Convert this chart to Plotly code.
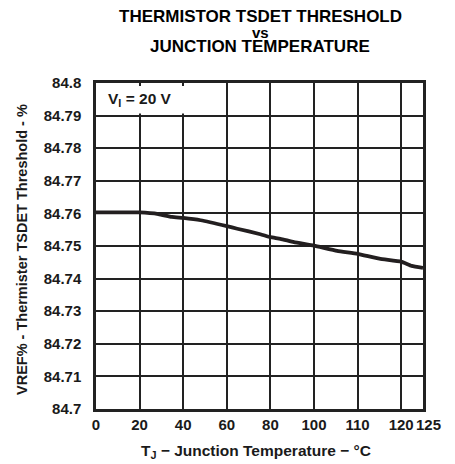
import numpy as np
import plotly.graph_objects as go

# Junction temperature (°C) and measured TSDET threshold (% of VREF)
temp_c = [0, 20, 28.6, 34.8, 40, 48, 60, 64.8, 75.4, 80, 84.6, 90.8, 100,
          105.3, 110, 115, 120, 122.4, 125]
threshold_pct = [84.7603, 84.7603, 84.7598, 84.7589, 84.7586, 84.7579, 84.7561,
                 84.7553, 84.7536, 84.7527, 84.7522, 84.7512, 84.7501,
                 84.7485, 84.7476, 84.7461, 84.7452, 84.7439, 84.7433]

# The temperature axis is drawn with evenly spaced labelled divisions
x_tick_temps = [0, 20, 40, 60, 80, 100, 110, 120, 125]
x_tick_pos = [0, 1, 2, 3, 4, 5, 6, 7, 7.5]
x_tick_text = ["0", "20", "40", "60", "80", "100", "110", "120", "125"]

y_ticks = [84.70, 84.71, 84.72, 84.73, 84.74, 84.75, 84.76, 84.77, 84.78, 84.79, 84.80]
y_tick_text = ["84.7", "84.71", "84.72", "84.73", "84.74", "84.75", "84.76",
               "84.77", "84.78", "84.79", "84.8"]

x_pos = np.interp(temp_c, x_tick_temps, x_tick_pos)

FONT = "Liberation Sans, Arial, sans-serif"
INK = "#1a1a1a"

# plot-area geometry in pixels (used to place the free text)
W, H = 455, 464
L, R, T, B = 96, 32, 83, 55
PW, PH = W - L - R, H - T - B


def px_x(x):
    return (x - L) / PW


def px_y(y):
    return (H - B - y) / PH


fig = go.Figure()
fig.add_trace(go.Scatter(
    x=x_pos, y=threshold_pct, mode="lines",
    line=dict(color="#231f20", width=3.8, shape="spline", smoothing=0.4),
    hoverinfo="skip", showlegend=False,
))

fig.update_layout(
    width=W, height=H,
    margin=dict(l=L, r=R, t=T, b=B),
    paper_bgcolor="white", plot_bgcolor="white",
    font=dict(family=FONT, color=INK),
    showlegend=False,
)

tick_font = dict(family=FONT, size=15, color=INK, weight="bold")
# the final label sits just right of the frame, so it is placed on its own below
x_axis_text = x_tick_text[:-1] + [""]
fig.update_xaxes(
    range=[0, 7.5], tickmode="array", tickvals=x_tick_pos, ticktext=x_axis_text,
    tickangle=0, showgrid=True, gridcolor="#222", gridwidth=1.5, zeroline=False,
    showline=True, linecolor="#222", linewidth=2.5, mirror=True,
    ticks="", tickfont=tick_font, ticklabelstandoff=0,
)
fig.update_yaxes(
    range=[84.70, 84.80], tickmode="array", tickvals=y_ticks, ticktext=y_tick_text,
    showgrid=True, gridcolor="#222", gridwidth=1.5, zeroline=False,
    showline=True, linecolor="#222", linewidth=2.5, mirror=True,
    ticks="", tickfont=tick_font, ticklabelstandoff=9,
)
fig.add_annotation(
    x=x_tick_pos[-1], y=px_y(424.5), xref="x", yref="paper",
    xanchor="center", yanchor="middle", xshift=5, showarrow=False,
    text=f"<b>{x_tick_text[-1]}</b>", font=dict(family=FONT, size=15, color=INK),
)

# Axis titles
fig.add_annotation(
    x=px_x(256), y=px_y(451.5), xref="paper", yref="paper",
    xanchor="center", yanchor="middle", showarrow=False,
    text="<b>T<sub>J</sub> − Junction Temperature − °C</b>",
    font=dict(family=FONT, size=15.5, color=INK),
)
fig.add_annotation(
    x=px_x(22), y=px_y(250), xref="paper", yref="paper",
    xanchor="center", yanchor="middle", showarrow=False, textangle=-90,
    text="<b>VREF% - Thermister TSDET Threshold - %</b>",
    font=dict(family=FONT, size=14.5, color=INK),
)

# Condition label on a white patch in the upper-left corner
fig.add_shape(
    type="rect", xref="paper", yref="paper", layer="above",
    x0=px_x(97.5), x1=px_x(187), y0=px_y(113.5), y1=px_y(86),
    fillcolor="white", line=dict(width=0),
)
fig.add_annotation(
    x=px_x(106), y=px_y(99), xref="paper", yref="paper",
    xanchor="left", yanchor="middle", showarrow=False,
    text="<b>V<sub>I</sub> = 20 V</b>",
    font=dict(family=FONT, size=15.5, color=INK),
)

# Three-line chart title
title_lines = [("THERMISTOR TSDET THRESHOLD", 17, 16.5),
               ("vs", 15, 32),
               ("JUNCTION TEMPERATURE", 17, 47)]
for text, size, ypix in title_lines:
    fig.add_annotation(
        x=px_x(260), y=px_y(ypix), xref="paper", yref="paper",
        xanchor="center", yanchor="middle", showarrow=False,
        text=f"<b>{text}</b>", font=dict(family=FONT, size=size, color="black"),
    )

fig.write_html("out.html")
